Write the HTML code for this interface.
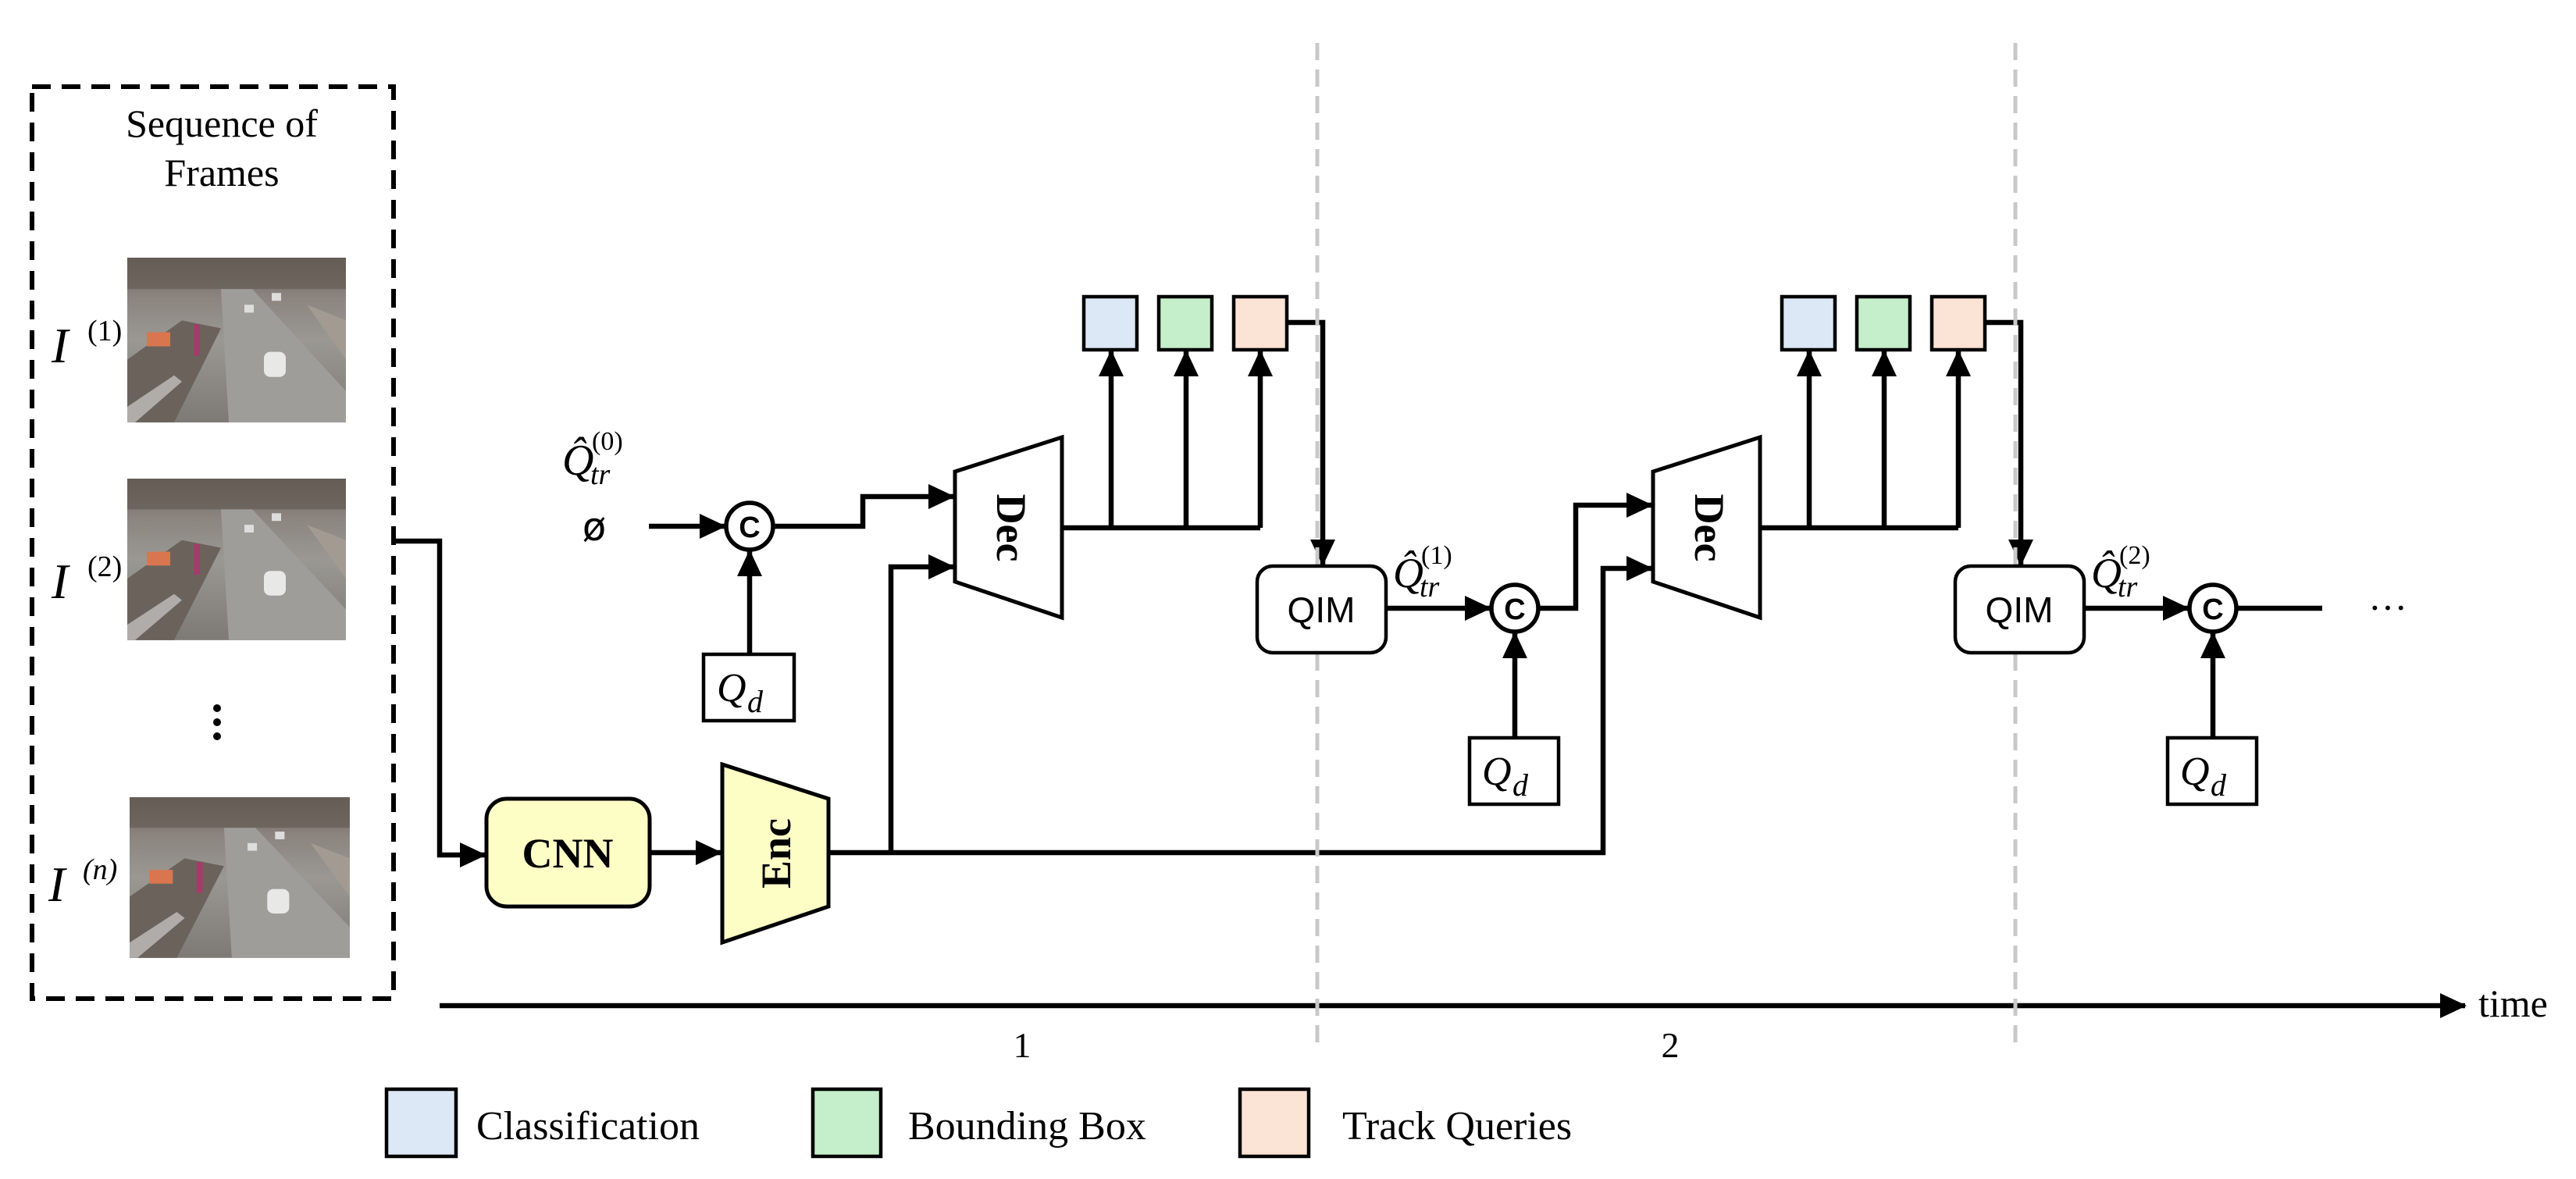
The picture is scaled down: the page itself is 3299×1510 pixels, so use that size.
<!DOCTYPE html>
<html><head><meta charset="utf-8"><style>
html,body{margin:0;padding:0;background:#fff;}
svg{display:block;}
text{font-family:"Liberation Serif",serif;}
</style></head><body>
<svg width="3299" height="1510" viewBox="0 0 3299 1510" xmlns="http://www.w3.org/2000/svg">
<defs>
<marker id="a" markerUnits="userSpaceOnUse" markerWidth="34" markerHeight="32" refX="32" refY="16" orient="auto">
<path d="M0,0 L34,16 L0,32 Z" fill="#000"/>
</marker>
<linearGradient id="fr" x1="0" y1="0" x2="0" y2="1">
<stop offset="0" stop-color="#6f6660"/>
<stop offset="0.25" stop-color="#8c8580"/>
<stop offset="0.5" stop-color="#9a9893"/>
<stop offset="1" stop-color="#7d7a76"/>
</linearGradient>
<g id="frame">
<rect x="0" y="0" width="280" height="210" fill="url(#fr)"/>
<rect x="0" y="0" width="280" height="40" fill="#5e564f" opacity="0.6"/>
<polygon points="0,130 70,80 120,90 60,210 0,210" fill="#6b635b"/>
<polygon points="120,40 160,40 280,170 280,210 130,210" fill="#9e9d99"/>
<polygon points="230,60 280,80 280,130" fill="#a39b92"/>
<rect x="25" y="95" width="30" height="18" fill="#d9764f"/>
<rect x="175" y="120" width="28" height="32" rx="8" fill="#e8e8e6"/>
<rect x="150" y="60" width="12" height="10" fill="#ddd"/>
<rect x="185" y="45" width="12" height="10" fill="#ddd"/>
<rect x="85" y="85" width="8" height="40" fill="#a33c6a"/>
<polygon points="0,190 60,150 70,158 10,210 0,210" fill="#ccc" opacity="0.7"/>
</g>
</defs>

<rect x="41" y="111" width="463" height="1168" fill="none" stroke="#000" stroke-width="6" stroke-dasharray="24,14"/>
<text x="284" y="175" font-size="50" text-anchor="middle">Sequence of</text>
<text x="284" y="238" font-size="50" text-anchor="middle">Frames</text>

<use href="#frame" transform="translate(163,330) scale(1,1.005)"/>
<use href="#frame" transform="translate(163,613) scale(1,0.985)"/>
<use href="#frame" transform="translate(166,1021) scale(1.007,0.98)"/>

<g font-style="italic">
<text x="66" y="464" font-size="64">I</text><text x="112" y="436" font-size="38" font-style="normal">(1)</text>
<text x="66" y="766" font-size="64">I</text><text x="112" y="738" font-size="38" font-style="normal">(2)</text>
<text x="62" y="1154" font-size="64">I</text><text x="106" y="1126" font-size="38">(n)</text>
</g>
<circle cx="278" cy="907" r="5"/><circle cx="278" cy="925" r="5"/><circle cx="278" cy="943" r="5"/>

<g fill="none" stroke="#000" stroke-width="6.5">
<path d="M504,693 H563 V1095 H621" marker-end="url(#a)"/>
<path d="M832,1092 H923" marker-end="url(#a)"/>
<path d="M1061,1092 H2053 V728 H2115" marker-end="url(#a)"/>
<path d="M1141,1092 V726 H1221" marker-end="url(#a)"/>
<path d="M831,674 H928" marker-end="url(#a)"/>
<path d="M960,838 V706" marker-end="url(#a)"/>
<path d="M990,674 H1105 V636 H1221" marker-end="url(#a)"/>
<path d="M1360,676 H1614"/>
<path d="M1423,676 V450" marker-end="url(#a)"/>
<path d="M1519,676 V450" marker-end="url(#a)"/>
<path d="M1614,676 V450" marker-end="url(#a)"/>
<path d="M1648,413 H1694 V723" marker-end="url(#a)"/>
<path d="M1775,779 H1908" marker-end="url(#a)"/>
<path d="M1940,945 V811" marker-end="url(#a)"/>
<path d="M1970,779 H2018 V647 H2115" marker-end="url(#a)"/>
<path d="M2254,676 H2508"/>
<path d="M2317,676 V450" marker-end="url(#a)"/>
<path d="M2413,676 V450" marker-end="url(#a)"/>
<path d="M2508,676 V450" marker-end="url(#a)"/>
<path d="M2542,413 H2588 V723" marker-end="url(#a)"/>
<path d="M2669,779 H2802" marker-end="url(#a)"/>
<path d="M2834,945 V811" marker-end="url(#a)"/>
<path d="M2864,779 H2974"/>
<path d="M563,1288 H3157" marker-end="url(#a)"/>
</g>

<g stroke="#c8c8c8" stroke-width="5" stroke-dasharray="22,12">
<line x1="1687" y1="55" x2="1687" y2="1345"/>
<line x1="2581" y1="55" x2="2581" y2="1345"/>
</g>

<rect x="623" y="1023" width="209" height="138" rx="26" fill="#fdfdc6" stroke="#000" stroke-width="5"/>
<text x="727" y="1111" font-size="54" font-weight="bold" text-anchor="middle">CNN</text>
<polygon points="925,979 1061,1023 1061,1161 925,1207" fill="#fdfdc6" stroke="#000" stroke-width="5"/>
<text transform="translate(1012,1093) rotate(-90)" font-size="54" font-weight="bold" text-anchor="middle">Enc</text>

<text x="720" y="608" font-size="56" font-style="italic">Q̂</text>
<text x="758" y="576" font-size="34">(0)</text>
<text x="756" y="620" font-size="38" font-style="italic">tr</text>
<text x="761" y="692" font-size="50" text-anchor="middle" style="font-family:'DejaVu Sans',sans-serif">ø</text>

<g fill="#fff" stroke="#000" stroke-width="5.5">
<circle cx="960" cy="674" r="30"/><circle cx="1940" cy="779" r="30"/><circle cx="2834" cy="779" r="30"/>
</g>
<g font-weight="bold" font-size="38" text-anchor="middle">
<text x="960" y="688" style="font-family:'Liberation Sans',sans-serif">C</text>
<text x="1940" y="793" style="font-family:'Liberation Sans',sans-serif">C</text>
<text x="2834" y="793" style="font-family:'Liberation Sans',sans-serif">C</text>
</g>

<g fill="#fff" stroke="#000" stroke-width="4.5">
<rect x="901" y="838" width="116" height="85"/>
<rect x="1882" y="945" width="114" height="85"/>
<rect x="2776" y="945" width="114" height="85"/>
</g>
<g font-size="52" font-style="italic">
<text x="918" y="898">Q</text><text x="957" y="912" font-size="40">d</text>
<text x="1898" y="1005">Q</text><text x="1937" y="1019" font-size="40">d</text>
<text x="2792" y="1005">Q</text><text x="2831" y="1019" font-size="40">d</text>
</g>

<g fill="#fff" stroke="#000" stroke-width="5">
<polygon points="1223,604 1360,560 1360,791 1223,745"/>
<polygon points="2117,604 2254,560 2254,791 2117,745"/>
</g>
<text transform="translate(1277,676) rotate(90)" font-size="54" font-weight="bold" text-anchor="middle">Dec</text>
<text transform="translate(2171,676) rotate(90)" font-size="54" font-weight="bold" text-anchor="middle">Dec</text>

<g stroke="#000" stroke-width="4.5">
<rect x="1388" y="380" width="68" height="68" fill="#dce8f5"/>
<rect x="1484" y="380" width="68" height="68" fill="#c5efca"/>
<rect x="1580" y="380" width="68" height="68" fill="#fbe3d6"/>
<rect x="2282" y="380" width="68" height="68" fill="#dce8f5"/>
<rect x="2378" y="380" width="68" height="68" fill="#c5efca"/>
<rect x="2474" y="380" width="68" height="68" fill="#fbe3d6"/>
</g>

<g fill="#fff" stroke="#000" stroke-width="4.5">
<rect x="1610" y="725" width="165" height="111" rx="20"/>
<rect x="2504" y="725" width="165" height="111" rx="20"/>
</g>
<g font-size="46" text-anchor="middle">
<text x="1692" y="797" style="font-family:'Liberation Sans',sans-serif">QIM</text>
<text x="2586" y="797" style="font-family:'Liberation Sans',sans-serif">QIM</text>
</g>

<text x="1784" y="752" font-size="54" font-style="italic">Q̂</text>
<text x="1820" y="722" font-size="34">(1)</text>
<text x="1818" y="764" font-size="38" font-style="italic">tr</text>
<text x="2678" y="752" font-size="54" font-style="italic">Q̂</text>
<text x="2714" y="722" font-size="34">(2)</text>
<text x="2712" y="764" font-size="38" font-style="italic">tr</text>

<text x="3058" y="795" font-size="50" text-anchor="middle">···</text>

<text x="3174" y="1302" font-size="50">time</text>
<text x="1309" y="1354" font-size="46" text-anchor="middle">1</text>
<text x="2139" y="1354" font-size="46" text-anchor="middle">2</text>

<g stroke="#000" stroke-width="4.5">
<rect x="495" y="1395" width="89" height="86" fill="#dce8f5"/>
<rect x="1041" y="1395" width="87" height="86" fill="#c5efca"/>
<rect x="1588" y="1395" width="88" height="86" fill="#fbe3d6"/>
</g>
<g font-size="52">
<text x="610" y="1459">Classification</text>
<text x="1163" y="1459">Bounding Box</text>
<text x="1719" y="1459">Track Queries</text>
</g>
</svg>
</body></html>
